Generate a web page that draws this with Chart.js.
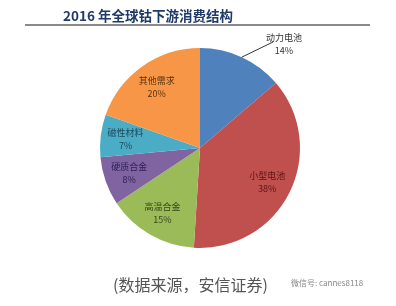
<!DOCTYPE html>
<html>
<head>
<meta charset="utf-8">
<script src="https://cdn.jsdelivr.net/npm/chart.js@4"></script>
<style>
  html, body { margin: 0; padding: 0; background: #fff; }
  #wrap { position: relative; width: 396px; height: 306px; overflow: hidden; }
  #pie { position: absolute; left: 0; top: 0; }
  .title {
    position: absolute; left: 63px; top: 5px;
    font: 700 13.5px "Noto Sans CJK SC", sans-serif; color: #1f3a68;
    white-space: nowrap;
  }
  .rule { position: absolute; left: 25px; top: 24px; width: 345px; height: 2px; background: #8a8a8a; }
  .source {
    position: absolute; left: 113px; top: 272px;
    font: 400 16px "Noto Sans CJK SC", sans-serif; color: #555; white-space: nowrap;
  }
  .wm {
    position: absolute; left: 291px; top: 277px;
    font: 400 8px "Noto Sans CJK SC", sans-serif; color: #888; white-space: nowrap;
  }
</style>
</head>
<body>
<div id="wrap">
  <canvas id="pie" width="396" height="306"></canvas>
  <div class="title">2016 年全球钴下游消费结构</div>
  <div class="rule"></div>
  <div class="source">(数据来源，安信证券)</div>
  <div class="wm">微信号: cannes8118</div>
</div>
<script>
(() => {
  "use strict";

  // ====== Data (clockwise from 12 o'clock) ======
  const categories = ["动力电池", "小型电池", "高温合金", "硬质合金", "磁性材料", "其他需求"];
  const shares = [14, 38, 15, 8, 7, 20];
  const sliceColors = ["#4f81bd", "#c0504d", "#9bbb59", "#8064a2", "#4bacc6", "#f79646"];
  const labelColors = ["#333333", "#5a1414", "#34461a", "#2e1f52", "#1c4a5c", "#5a3410"];

  // Draw category + percent on each slice; the first one sits outside with a leader line
  const sliceLabels = {
    id: "sliceLabels",
    afterDatasetsDraw(chart) {
      const { ctx } = chart;
      const arcs = chart.getDatasetMeta(0).data;
      ctx.save();
      ctx.font = '9px "Noto Sans CJK SC", sans-serif';
      ctx.textAlign = "center";
      ctx.textBaseline = "middle";
      arcs.forEach((arc, i) => {
        const { x, y, startAngle, endAngle, outerRadius } = arc.getProps(
          ["x", "y", "startAngle", "endAngle", "outerRadius"], true);
        const mid = (startAngle + endAngle) / 2;
        let lx, ly;
        if (i === 0) {
          // outside label with leader line from the rim
          const ex = x + Math.cos(mid) * outerRadius;
          const ey = y + Math.sin(mid) * outerRadius;
          ctx.strokeStyle = "#333";
          ctx.lineWidth = 1;
          ctx.beginPath();
          ctx.moveTo(ex, ey);
          ctx.lineTo(x + 73, y - 106);
          ctx.stroke();
          lx = x + 84;
          ly = y - 104;
        } else {
          lx = x + Math.cos(mid) * outerRadius * 0.75;
          ly = y + Math.sin(mid) * outerRadius * 0.75;
        }
        ctx.fillStyle = labelColors[i];
        ctx.fillText(categories[i], lx, ly - 6);
        ctx.fillText(shares[i] + "%", lx, ly + 7);
      });
      ctx.restore();
    }
  };

  new Chart(document.getElementById("pie").getContext("2d"), {
    type: "pie",
    data: {
      labels: categories,
      datasets: [{
        data: shares,
        backgroundColor: sliceColors,
        borderWidth: 0
      }]
    },
    options: {
      responsive: false,
      animation: false,
      layout: { padding: { top: 48, bottom: 58, left: 4, right: 0 } },
      plugins: {
        legend: { display: false },
        tooltip: { enabled: false }
      }
    },
    plugins: [sliceLabels]
  });
})();
</script>
</body>
</html>
